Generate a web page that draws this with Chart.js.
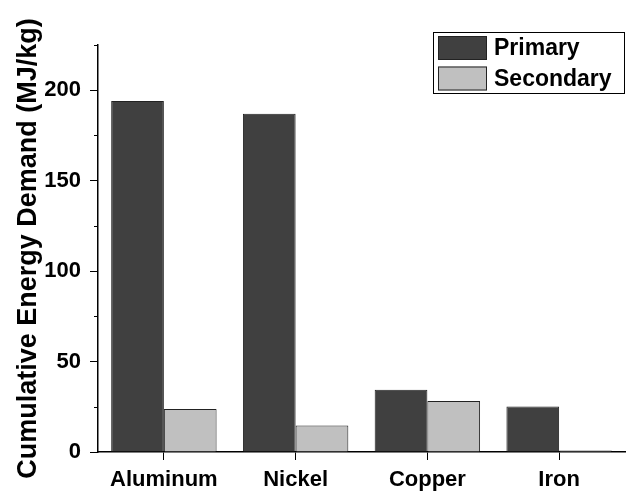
<!DOCTYPE html>
<html>
<head>
<meta charset="utf-8">
<script src="https://cdn.jsdelivr.net/npm/chart.js@4"></script>
<style>
  html, body { margin: 0; padding: 0; background: #fff; }
  #wrap { width: 637px; height: 491px; }
</style>
</head>
<body>
<div id="wrap"><canvas id="chart" width="637" height="491"></canvas></div>
<script>
// values (MJ/kg)
const materials = ["Aluminum", "Nickel", "Copper", "Iron"];
const primaryCED = [194, 187, 34.4, 25.2];
const secondaryCED = [23.8, 14.7, 28.2, 0.8];
const yMajorTicks = [0, 50, 100, 150, 200];

const FONT = "'Liberation Sans', Arial, sans-serif";

// legend box drawn inside the plot, top right
const insideLegend = {
  id: "insideLegend",
  afterDraw(chart) {
    const c = chart.ctx;
    const x0 = 433, y0 = 32, w = 191, h = 61;
    c.save();
    c.fillStyle = "#fff";
    c.fillRect(x0, y0, w, h);
    c.strokeStyle = "#000";
    c.lineWidth = 1;
    c.strokeRect(x0 + 0.5, y0 + 0.5, w, h);
    chart.data.datasets.forEach((ds, i) => {
      const sy = y0 + 4 + i * 30.5;
      c.fillStyle = ds.backgroundColor;
      c.fillRect(438, sy, 49, 24);
      c.strokeStyle = "#222";
      c.strokeRect(438.5, sy + 0.5, 48, 23);
      c.fillStyle = "#000";
      c.font = "bold 23px " + FONT;
      c.textBaseline = "middle";
      c.fillText(ds.label, 494, sy + 13);
    });
    c.restore();
  }
};

// short minor ticks on the y axis (every 25 between the labelled ones)
const minorTicks = {
  id: "minorTicks",
  afterDraw(chart) {
    const y = chart.scales.y;
    const c = chart.ctx;
    c.save();
    c.strokeStyle = "#000";
    c.lineWidth = 1;
    for (let v = 25; v <= 225; v += 50) {
      const py = Math.round(y.getPixelForValue(v)) + 0.5;
      c.beginPath();
      c.moveTo(y.right - 4, py);
      c.lineTo(y.right, py);
      c.stroke();
    }
    c.restore();
  }
};

new Chart(document.getElementById("chart"), {
  type: "bar",
  data: {
    labels: materials,
    datasets: [
      {
        label: "Primary",
        data: primaryCED,
        backgroundColor: "#404040",
        borderColor: "#222",
        borderWidth: 1,
        categoryPercentage: 0.8,
        barPercentage: 1
      },
      {
        label: "Secondary",
        data: secondaryCED,
        backgroundColor: "#c0c0c0",
        borderColor: "#222",
        borderWidth: 1,
        categoryPercentage: 0.8,
        barPercentage: 1
      }
    ]
  },
  options: {
    responsive: false,
    animation: false,
    layout: { padding: { left: 12, top: 45, right: 12, bottom: 0 } },
    plugins: {
      legend: { display: false },
      tooltip: { enabled: false }
    },
    scales: {
      x: {
        grid: {
          offset: false,
          drawOnChartArea: false,
          tickLength: 8,
          tickColor: "#000"
        },
        border: { color: "#000", width: 1.5 },
        ticks: {
          color: "#000",
          font: { family: FONT, size: 22, weight: "bold" },
          padding: 7
        },
        afterFit(scale) { scale.height = 39; }
      },
      y: {
        min: 0,
        max: 225,
        grid: {
          drawOnChartArea: false,
          tickLength: 8,
          tickColor: (ctx) => (yMajorTicks.includes(ctx.tick && ctx.tick.value) ? "#000" : "rgba(0,0,0,0)")
        },
        border: { color: "#000", width: 1.5 },
        ticks: {
          stepSize: 25,
          color: "#000",
          font: { family: FONT, size: 22, weight: "bold" },
          padding: 9,
          callback: (v) => (yMajorTicks.includes(v) ? v : "")
        },
        title: {
          display: true,
          text: "Cumulative Energy Demand (MJ/kg)",
          color: "#000",
          font: { family: FONT, size: 27, weight: "bold" },
          padding: { top: 0, bottom: 0 }
        },
        afterFit(scale) { scale.width = 86; }
      }
    }
  },
  plugins: [insideLegend, minorTicks]
});
</script>
</body>
</html>
